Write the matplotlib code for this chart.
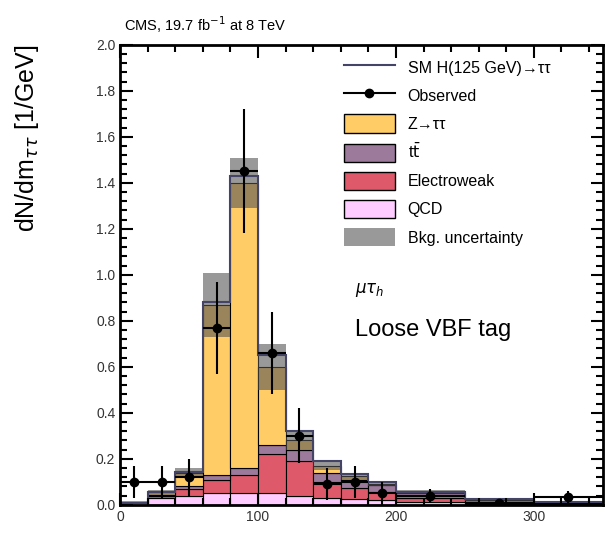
import numpy as np
import matplotlib
matplotlib.use("Agg")
import matplotlib.pyplot as plt
from matplotlib.ticker import MultipleLocator
from matplotlib.patches import Patch
from matplotlib.lines import Line2D

# ---- data ----
bin_edges = [0, 20, 40, 60, 80, 100, 120, 140, 160, 180, 200, 250, 300, 350]
qcd      = [0.010, 0.030, 0.040, 0.050, 0.050, 0.050, 0.040, 0.030, 0.025, 0.020, 0.012, 0.005, 0.003]
ewk      = [0.000, 0.010, 0.030, 0.060, 0.080, 0.170, 0.150, 0.070, 0.050, 0.035, 0.020, 0.008, 0.004]
ttbar    = [0.000, 0.005, 0.010, 0.020, 0.030, 0.040, 0.050, 0.040, 0.035, 0.030, 0.020, 0.010, 0.005]
ztt      = [0.000, 0.010, 0.060, 0.740, 1.240, 0.340, 0.040, 0.030, 0.015, 0.008, 0.003, 0.001, 0.000]
bkg_unc  = [0.005, 0.010, 0.020, 0.140, 0.110, 0.100, 0.040, 0.020, 0.015, 0.012, 0.008, 0.005, 0.004]
signal   = [0.000, 0.000, 0.002, 0.010, 0.030, 0.050, 0.040, 0.020, 0.010, 0.005, 0.002, 0.000, 0.000]
observed = [0.100, 0.100, 0.120, 0.770, 1.450, 0.660, 0.300, 0.090, 0.100, 0.050, 0.040, 0.010, 0.035]
obs_err  = [0.070, 0.070, 0.080, 0.200, 0.270, 0.180, 0.120, 0.070, 0.070, 0.050, 0.030, 0.015, 0.027]

labels = ["SM H(125 GeV)\u2192\u03c4\u03c4", "Observed", "Z\u2192\u03c4\u03c4", "t$\\bar{\\mathrm{t}}$",
          "Electroweak", "QCD", "Bkg. uncertainty"]
colors = {"ztt": "#FFCC66", "tt": "#9C7A9C", "ewk": "#DE5A6A", "qcd": "#FFCCFF"}

plt.rcParams['font.family'] = ['Liberation Sans', 'DejaVu Sans']

edges = np.array(bin_edges, dtype=float)
widths = np.diff(edges)
centers = edges[:-1] + widths / 2

fig = plt.figure(figsize=(6.07, 5.40), dpi=100)
ax = fig.add_axes([0.198, 0.065, 0.795, 0.852])

bottom = np.zeros(len(widths))
for vals, key in [(qcd, "qcd"), (ewk, "ewk"), (ttbar, "tt"), (ztt, "ztt")]:
    v = np.array(vals)
    ax.bar(edges[:-1], v, width=widths, bottom=bottom, align='edge',
           color=colors[key], edgecolor='black', linewidth=0.8)
    bottom = bottom + v
total = bottom

unc = np.array(bkg_unc)
ax.bar(edges[:-1], 2 * unc, width=widths, bottom=total - unc, align='edge',
       color='#555555', alpha=0.6, linewidth=0)

ax.stairs(total + np.array(signal), edges, color='#444466', linewidth=1.5)

ax.errorbar(centers, observed, yerr=obs_err, xerr=widths / 2, fmt='o', color='black',
            markersize=6, elinewidth=1.5, capsize=0)

ax.set_xlim(0, 350)
ax.set_ylim(0, 2.0)
ax.xaxis.set_major_locator(MultipleLocator(100))
ax.xaxis.set_minor_locator(MultipleLocator(20))
ax.yaxis.set_major_locator(MultipleLocator(0.2))
ax.yaxis.set_minor_locator(MultipleLocator(0.04))
ax.yaxis.set_major_formatter(matplotlib.ticker.FormatStrFormatter('%.1f'))
ax.tick_params(which='both', direction='in', top=True, right=True, labelsize=10, width=1.5,
               labelcolor='#333333')
ax.tick_params(which='major', length=9)
ax.tick_params(which='minor', length=5)
for s in ax.spines.values():
    s.set_linewidth(2)

ax.set_ylabel("dN/dm$_{\\tau\\tau}$ [1/GeV]", fontsize=18, loc='top')
ax.yaxis.set_label_coords(-0.165, 1.0)

fig.text(0.205, 0.935, "CMS, 19.7 fb$^{-1}$ at 8 TeV", fontsize=10.5, ha='left', va='bottom')

handles = [
    Line2D([0], [0], color='#444466', lw=1.5),
    Line2D([0], [0], color='black', marker='o', markersize=6, lw=1.5),
    Patch(facecolor=colors["ztt"], edgecolor='black'),
    Patch(facecolor=colors["tt"], edgecolor='black'),
    Patch(facecolor=colors["ewk"], edgecolor='black'),
    Patch(facecolor=colors["qcd"], edgecolor='black'),
    Patch(facecolor='#555555', alpha=0.6, edgecolor='none'),
]
ax.legend(handles, labels, loc='upper left', bbox_to_anchor=(0.45, 0.985), frameon=False,
          fontsize=11.5, handlelength=3.2, handleheight=1.4, labelspacing=0.6, borderaxespad=0)

ax.text(0.487, 0.467, "$\\mu\\tau_h$", transform=ax.transAxes, fontsize=12, ha='left', va='center')
ax.text(0.487, 0.38, "Loose VBF tag", transform=ax.transAxes, fontsize=17, ha='left', va='center')

fig.savefig("out.png", dpi=100)
